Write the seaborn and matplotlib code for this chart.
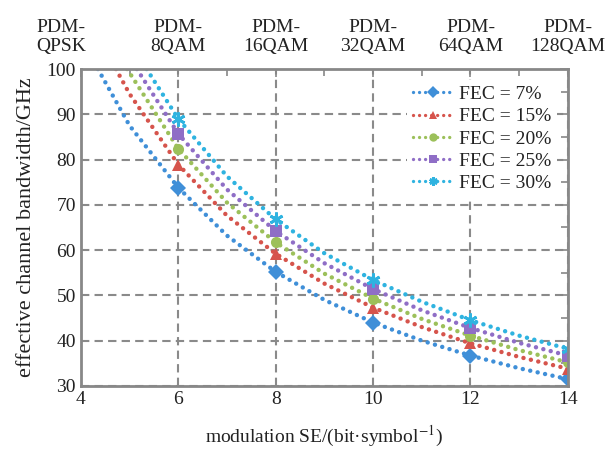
import numpy as np
import pandas as pd
import matplotlib.pyplot as plt
import seaborn as sns
from matplotlib.ticker import MultipleLocator

sns.set_theme(style='white')
plt.rcParams['font.family'] = ['Liberation Serif', 'DejaVu Serif']
plt.rcParams['mathtext.fontset'] = 'stix'

# data
marker_se = [6, 8, 10, 12, 14]
formats = ['PDM-\nQPSK', 'PDM-\n8QAM', 'PDM-\n16QAM', 'PDM-\n32QAM', 'PDM-\n64QAM', 'PDM-\n128QAM']
format_se = [3.6, 6, 8, 10, 12, 14]

labels = ['FEC = 7%', 'FEC = 15%', 'FEC = 20%', 'FEC = 25%', 'FEC = 30%']
se_7 = [4.35, 5, 6, 7, 8, 9, 10, 11, 12, 13, 14]
bw_7 = [100, 87.5, 73.8, 63.2, 55.2, 49.0, 44.0, 40.0, 36.7, 33.9, 31.5]
se_15 = [4.72, 5, 6, 7, 8, 9, 10, 11, 12, 13, 14]
bw_15 = [100, 94.5, 78.9, 67.6, 59.2, 52.6, 47.3, 43.0, 39.4, 36.4, 33.8]
se_20 = [4.95, 6, 7, 8, 9, 10, 11, 12, 13, 14]
bw_20 = [100, 82.4, 70.5, 61.7, 54.8, 49.3, 44.8, 41.1, 37.9, 35.2]
se_25 = [5.15, 6, 7, 8, 9, 10, 11, 12, 13, 14]
bw_25 = [100, 85.7, 73.4, 64.2, 57.1, 51.4, 46.7, 42.8, 39.5, 36.7]
se_30 = [5.35, 6, 7, 8, 9, 10, 11, 12, 13, 14]
bw_30 = [100, 89.0, 76.3, 66.8, 59.3, 53.4, 48.6, 44.5, 41.1, 38.2]

series = [(se_7, bw_7), (se_15, bw_15), (se_20, bw_20), (se_25, bw_25), (se_30, bw_30)]
colors = ['#3f8fd8', '#d6544c', '#9cc05a', '#8f6ec6', '#2fb3e0']
markers = ['D', '^', 'o', 's', (6, 2, 0)]
msizes = [8, 8, 8, 8, 10]

fig = plt.figure(figsize=(6.08, 4.54), dpi=100)
ax = fig.add_axes([0.133, 0.150, 0.801, 0.698])

for (xs, ys), lab, c, m, ms in zip(series, labels, colors, markers, msizes):
    df = pd.DataFrame({'se': xs, 'bw': ys})
    idx = [i for i, v in enumerate(xs) if v in marker_se]
    sns.lineplot(data=df, x='se', y='bw', ax=ax, color=c, label=lab,
                 linewidth=3.2, linestyle=(0, (0.01, 1.7)), dash_capstyle='round',
                 marker=m, markevery=idx, markersize=ms, markeredgewidth=2 if m == (6, 2, 0) else 0,
                 markeredgecolor=c, markerfacecolor=c, clip_on=True)

ax.set_xlim(4, 14)
ax.set_ylim(30, 100)
ax.xaxis.set_major_locator(MultipleLocator(2))
ax.xaxis.set_minor_locator(MultipleLocator(1))
ax.yaxis.set_major_locator(MultipleLocator(10))
ax.yaxis.set_minor_locator(MultipleLocator(5))
ax.tick_params(which='both', direction='in', top=True, right=True, colors='#888888',
               labelcolor='#222222', labelsize=14, width=1.2)
ax.tick_params(which='major', length=6)
ax.tick_params(which='minor', length=5)
ax.grid(True, which='major', color='#8a8a8a', linestyle=(0, (4, 2.5)), linewidth=1.5)
for s in ax.spines.values():
    s.set_color('#888888')
    s.set_linewidth(2)

ax.set_xlabel('modulation SE/(bit·symbol$^{-1}$)', fontsize=14, color='#222222', labelpad=12)
ax.set_ylabel('effective channel bandwidth/GHz', fontsize=16, color='#222222', labelpad=8)

# modulation format names above the plot
for xv, name in zip(format_se, formats):
    ax.text(xv, 1.045, name, transform=ax.get_xaxis_transform(), ha='center', va='bottom',
            fontsize=14, color='#222222', linespacing=1.15, clip_on=False)

leg = ax.legend(loc='upper right', frameon=True, facecolor='white', edgecolor='none',
                framealpha=1, fancybox=False, fontsize=14, handlelength=2.0,
                labelspacing=0.24, handletextpad=0.35, borderaxespad=0.55, borderpad=0.3)
for t in leg.get_texts():
    t.set_color('#222222')
for h in leg.legend_handles:
    h.set_linewidth(2.4)
    h.set_markersize(6)
    h.set_linestyle((0, (0.01, 1.8)))

fig.savefig('out.png', dpi=100)
